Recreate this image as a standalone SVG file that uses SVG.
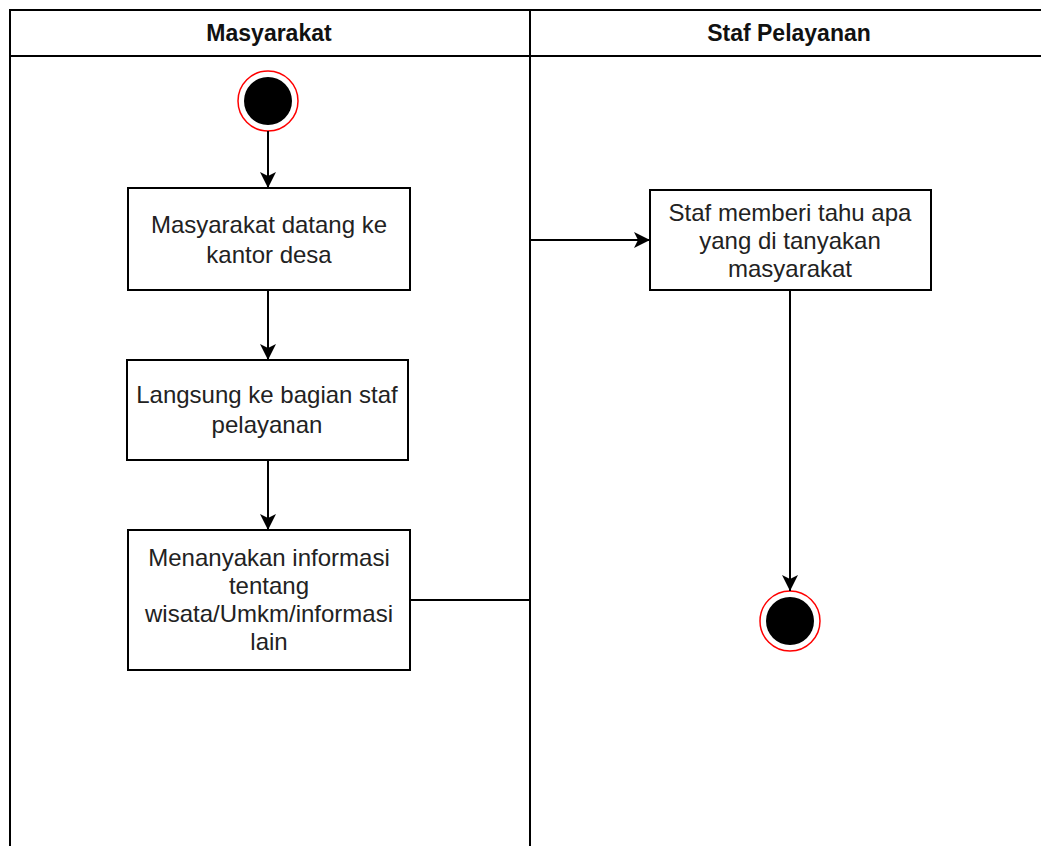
<svg xmlns="http://www.w3.org/2000/svg" width="1041" height="846" viewBox="0 0 1041 846">
<style>
.lane{fill:none;stroke:#000;stroke-width:2}
.box{fill:#fff;stroke:#000;stroke-width:2}
.t{font-family:"Liberation Sans",Arial,sans-serif;font-size:24px;fill:#222;text-anchor:middle}
.h{font-family:"Liberation Sans",Arial,sans-serif;font-size:23px;font-weight:bold;fill:#111;text-anchor:middle}
.c{fill:none;stroke:#000;stroke-width:2}
.ring{fill:#fff;stroke:#ff0000;stroke-width:1.5}
</style>
<defs>
<marker id="arr" markerWidth="18" markerHeight="18" refX="16" refY="8" orient="auto" markerUnits="userSpaceOnUse">
<path d="M0,0 L16,8 L0,16 L4,8 Z" fill="#000"/>
</marker>
</defs>
<g id="lanes">
<rect class="lane" x="10" y="10" width="1040" height="850"/>
<line class="lane" x1="10" y1="56" x2="1050" y2="56"/>
<line class="lane" x1="530" y1="10" x2="530" y2="860"/>
<text class="h" x="269" y="41">Masyarakat</text>
<text class="h" x="789" y="41">Staf Pelayanan</text>
</g>
<g id="start">
<circle class="ring" cx="268" cy="101" r="30"/>
<circle cx="268" cy="101" r="24" fill="#000"/>
</g>
<g id="n1">
<rect class="box" x="128" y="188" width="282" height="102"/>
<text class="t" x="269" y="233">Masyarakat datang ke</text>
<text class="t" x="269" y="263">kantor desa</text>
</g>
<g id="n2">
<rect class="box" x="127" y="360" width="281" height="100"/>
<text class="t" x="267" y="403">Langsung ke bagian staf</text>
<text class="t" x="267" y="433">pelayanan</text>
</g>
<g id="n3">
<rect class="box" x="128" y="530" width="282" height="140"/>
<text class="t" x="269" y="566">Menanyakan informasi</text>
<text class="t" x="269" y="594">tentang</text>
<text class="t" x="269" y="622">wisata/Umkm/informasi</text>
<text class="t" x="269" y="650">lain</text>
</g>
<g id="n4">
<rect class="box" x="650" y="190" width="281" height="100"/>
<text class="t" x="790" y="221">Staf memberi tahu apa</text>
<text class="t" x="790" y="249">yang di tanyakan</text>
<text class="t" x="790" y="277">masyarakat</text>
</g>
<g id="end">
<circle class="ring" cx="790" cy="621" r="30"/>
<circle cx="790" cy="621" r="24" fill="#000"/>
</g>
<g id="connectors">
<line class="c" x1="268" y1="131" x2="268" y2="188" marker-end="url(#arr)"/>
<line class="c" x1="268" y1="290" x2="268" y2="360" marker-end="url(#arr)"/>
<line class="c" x1="268" y1="460" x2="268" y2="530" marker-end="url(#arr)"/>
<polyline class="c" points="410,600 530,600 530,240 650,240" marker-end="url(#arr)"/>
<line class="c" x1="790" y1="290" x2="790" y2="591" marker-end="url(#arr)"/>
</g>
</svg>
